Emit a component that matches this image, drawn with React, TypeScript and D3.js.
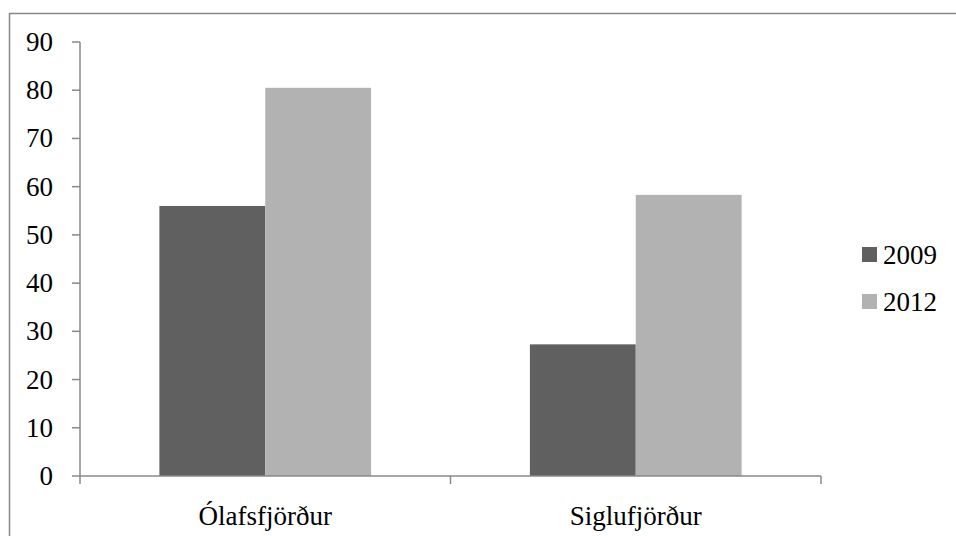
import React from "react";
import * as d3 from "d3";

const categories = ["Ólafsfjörður", "Siglufjörður"];
const seriesNames = ["2009", "2012"];
const values2009 = [56, 27.3];
const values2012 = [80.5, 58.3];
const yTicks = [0, 10, 20, 30, 40, 50, 60, 70, 80, 90];
const colors = ["#606060", "#b2b2b2"];

const W = 956;
const H = 536;
const font = "'Liberation Serif', 'Times New Roman', serif";

export default function App() {
  const left = 80;
  const right = 821;
  const top = 42;
  const bottom = 476;
  const y = d3.scaleLinear().domain([0, 90]).range([bottom, top]);
  const x0 = d3.scaleBand<string>().domain(categories).range([left, right]).padding(0);
  const bw = x0.bandwidth();
  const barW = bw / 3.5;
  const gap = (bw - 2 * barW) / 2;
  const x1 = d3.scaleBand<string>().domain(seriesNames).range([gap, bw - gap]).padding(0);
  const series = [values2009, values2012];
  const axisColor = "#888888";
  const xTickPositions = [left, ...categories.map((c) => (x0(c) as number) + bw)];

  return (
    <svg width={W} height={H} style={{ position: "absolute", left: 0, top: 0, background: "#fff" }}>
      <rect x={9.5} y={13.5} width={1100} height={700} fill="none" stroke="#888888" strokeWidth={1.5} />
      {categories.map((c, ci) =>
        seriesNames.map((s, si) => {
          const v = series[si][ci];
          const bx = (x0(c) as number) + (x1(s) as number);
          return (
            <rect
              key={c + s}
              x={bx}
              y={y(v)}
              width={x1.bandwidth()}
              height={bottom - y(v)}
              fill={colors[si]}
            />
          );
        })
      )}
      {/* y axis */}
      <line x1={left} x2={left} y1={top} y2={bottom} stroke={axisColor} strokeWidth={1.5} />
      {yTicks.map((t) => (
        <g key={t}>
          <line x1={left - 8} x2={left} y1={y(t)} y2={y(t)} stroke={axisColor} strokeWidth={1.5} />
          <text
            x={53}
            y={y(t)}
            textAnchor="end"
            dominantBaseline="central"
            fontFamily={font}
            fontSize={27}
            fill="#000"
          >
            {t}
          </text>
        </g>
      ))}
      {/* x axis */}
      <line x1={left} x2={right} y1={bottom} y2={bottom} stroke={axisColor} strokeWidth={1.5} />
      {xTickPositions.map((p, i) => (
        <line key={i} x1={p} x2={p} y1={bottom} y2={bottom + 8} stroke={axisColor} strokeWidth={1.5} />
      ))}
      {categories.map((c) => (
        <text
          key={c}
          x={(x0(c) as number) + bw / 2}
          y={516}
          textAnchor="middle"
          dominantBaseline="central"
          fontFamily={font}
          fontSize={27}
          fill="#000"
        >
          {c}
        </text>
      ))}
      {/* legend */}
      {seriesNames.map((s, i) => (
        <g key={s}>
          <rect x={862} y={247 + i * 47} width={15} height={15} fill={colors[i]} />
          <text
            x={883}
            y={255 + i * 47}
            dominantBaseline="central"
            fontFamily={font}
            fontSize={27}
            fill="#000"
          >
            {s}
          </text>
        </g>
      ))}
    </svg>
  );
}
